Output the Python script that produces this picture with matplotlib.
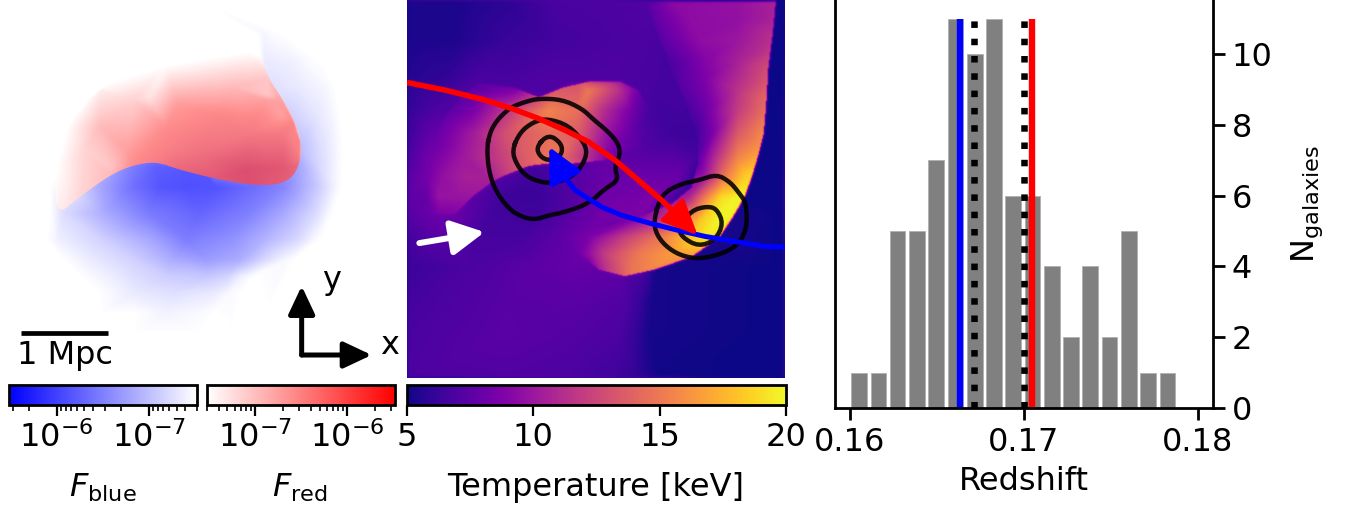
import numpy as np
import matplotlib
matplotlib.use("Agg")
import matplotlib.pyplot as plt
import matplotlib.tri as mtri
from matplotlib.cm import ScalarMappable
from matplotlib.colors import LinearSegmentedColormap, LogNorm, Normalize
from matplotlib.patches import Polygon
from matplotlib.path import Path
from matplotlib.ticker import NullFormatter

# histogram
bar_centers = [0.16052, 0.16163, 0.16274, 0.16385, 0.16495, 0.16606, 0.16717, 0.16828, 0.16938,
               0.17049, 0.17160, 0.17271, 0.17381, 0.17492, 0.17603, 0.17714, 0.17824]
bar_counts = [1, 1, 5, 5, 7, 11, 10, 11, 6, 6, 4, 2, 4, 2, 5, 1, 1]
blue_z = 0.16635
red_z = 0.17046
dotted_z = [0.16712, 0.16999]

# temperature map, row y: (x, keV) along the row
cool_rows = {
    0: [(5, 5.3), (150, 5.3), (300, 5.8), (450, 6.8), (680, 7), (800, 7), (880, 5.2), (1140, 5)],
    120: [(5, 5.3), (150, 5.4), (300, 6.2), (450, 6.6), (700, 6.9), (860, 6.5), (950, 5.2), (1140, 5)],
    230: [(5, 5.6), (130, 6), (215, 6.8), (430, 7), (600, 7), (760, 6.7), (860, 6.7), (930, 5), (1140, 5)],
    330: [(5, 6), (100, 7), (300, 7.2), (600, 7.5), (760, 6.5), (840, 6.6), (960, 5), (1140, 5)],
    400: [(5, 6.3), (80, 7.8), (600, 7.5), (800, 6.4), (870, 6.3), (960, 5), (1140, 5)],
    470: [(5, 6.8), (70, 8.4), (300, 7), (700, 7.4), (870, 6.8), (960, 5), (1140, 5)],
    530: [(5, 7.3), (60, 8.3), (150, 8), (300, 7), (400, 6.4), (470, 7), (600, 8), (700, 8), (820, 8), (900, 5), (1140, 5)],
    590: [(5, 7.5), (100, 8), (220, 7.2), (300, 6.3), (400, 6.3), (480, 6.9), (600, 8.2), (750, 8.8), (850, 5.5), (1140, 5)],
    650: [(5, 7.2), (90, 8), (160, 7.8), (250, 6.6), (400, 6.5), (500, 7.4), (600, 8.4), (700, 8.8), (800, 5.5), (1140, 5)],
    710: [(5, 6.6), (100, 7.4), (200, 6.7), (350, 6.7), (450, 7.4), (550, 8.4), (650, 7), (760, 5), (1140, 5)],
    800: [(5, 6.3), (200, 6.9), (400, 7.5), (500, 7.8), (640, 7.6), (720, 6.7), (750, 5.2), (1140, 5)],
    900: [(5, 6.6), (300, 7.3), (500, 7.4), (660, 7.1), (700, 6.3), (740, 5.2), (1140, 5)],
    1000: [(5, 6.8), (300, 7.4), (500, 7.2), (640, 6.9), (690, 6.1), (730, 5.2), (1140, 5)],
    1132: [(5, 6.9), (300, 7.1), (500, 6.9), (620, 6.5), (700, 5.9), (760, 5.1), (1140, 5)],
}
band_rows = {
    0: [(700, 6.8), (730, 7.4), (800, 9.3), (1000, 9.7), (1150, 10.9)],
    60: [(720, 6.9), (760, 7.8), (850, 9.4), (1000, 9.6), (1150, 11)],
    120: [(740, 6.8), (790, 7.8), (880, 9.4), (1000, 10), (1150, 12)],
    180: [(770, 6.7), (820, 7.4), (900, 9), (1000, 10.5), (1150, 13.5)],
    230: [(790, 6.7), (900, 8.7), (1000, 11), (1150, 14.5)],
    270: [(800, 6.7), (900, 8.5), (1000, 11.5), (1150, 15.5)],
    330: [(840, 6.6), (900, 8), (1000, 12), (1150, 16.5)],
    400: [(870, 6.3), (920, 8.5), (1000, 13.5), (1150, 18)],
    470: [(870, 6.8), (930, 11), (1000, 15.5), (1150, 19)],
    530: [(820, 8), (900, 10), (960, 15), (1020, 18.5), (1150, 20)],
    590: [(750, 8.8), (850, 10.5), (900, 15), (950, 19), (1000, 19.8), (1150, 19.5)],
    650: [(700, 8.8), (800, 12), (900, 18.5), (950, 20), (1150, 19)],
    710: [(450, 7.4), (550, 8.6), (650, 11.8), (750, 14.5), (850, 18), (900, 19.5), (1150, 17.5)],
    760: [(450, 7.5), (520, 8.3), (560, 10), (600, 12), (700, 15), (800, 16.5), (1150, 15.5)],
    800: [(500, 7.8), (550, 8.2), (600, 11.5), (680, 14.8), (1150, 15)],
    850: [(500, 7.8), (550, 8.2), (600, 11.5), (680, 14.8), (1150, 15)],
}
band_edge = [(720, 0), (1115, 0), (1105, 100), (1092, 200), (1086, 300), (1078, 400), (1060, 470), (1042, 530), (1020, 590), (985, 650), (945, 710),
             (860, 770), (750, 808), (660, 828), (580, 808), (520, 760), (490, 700), (560, 690), (700, 650), (800, 610), (860, 560), (880, 490),
             (880, 420), (840, 300), (790, 180)]
lobe_rows = {
    240: [(200, 7), (330, 7.5), (400, 8.8), (450, 11.5), (520, 13), (640, 10.5), (720, 7)],
    270: [(120, 6.5), (200, 7.5), (330, 8.8), (400, 11.5), (450, 13.5), (550, 15), (640, 11.5), (700, 8.3), (720, 7.3)],
    330: [(100, 7), (200, 8.5), (300, 11.5), (430, 15.5), (520, 14.5), (600, 11), (680, 8.4), (740, 6.5)],
    400: [(80, 7.6), (200, 10.2), (300, 13), (430, 14.5), (520, 13.5), (600, 10), (680, 7.8), (760, 6.5)],
    470: [(70, 8.3), (170, 10), (280, 12), (380, 14), (450, 15), (540, 11.5), (620, 8.5), (700, 7.4)],
    530: [(60, 8.3), (110, 9.6), (180, 10.5), (250, 10.5), (380, 14), (480, 15), (600, 8.5)],
    590: [(60, 8), (100, 9.8), (150, 9.8), (250, 10)],
    650: [(60, 7.7), (100, 8.5), (200, 9)],
}
lobe_edge = [(110, 680), (40, 680), (60, 560), (60, 470), (90, 380), (150, 310), (215, 248), (330, 262), (400, 290), (470, 262), (550, 243), (640, 240),
             (700, 270), (740, 340), (700, 440), (600, 480), (500, 490), (450, 487), (370, 497), (300, 525), (260, 545), (200, 590), (150, 640)]

# contours and trajectories on the temperature map
ring_a = [(245, 440), (255, 395), (272, 365), (295, 340), (320, 320), (360, 305), (400, 295), (470, 298), (530, 325), (565, 358), (610, 395),
          (640, 430), (645, 465), (628, 500), (640, 540), (600, 565), (550, 610), (480, 635), (430, 645), (390, 658), (350, 650),
          (310, 625), (270, 570), (250, 510)]
ring_b = [(320, 450), (345, 395), (385, 365), (425, 355), (490, 375), (540, 430), (545, 470), (510, 525), (440, 552), (370, 535), (335, 495)]
ring_c = [(393, 440), (430, 402), (470, 430), (470, 465), (435, 482), (405, 470)]
ring_d = [(745, 660), (770, 580), (830, 550), (880, 540), (935, 522), (975, 545), (1000, 575), (1025, 610), (1025, 690), (990, 745),
          (900, 775), (840, 770), (790, 745), (755, 705)]
ring_e = [(820, 680), (860, 630), (905, 618), (935, 625), (955, 670), (930, 720), (880, 738), (830, 710)]
red_path = [(5, 247), (120, 270), (230, 297), (320, 325), (400, 355), (480, 390), (550, 425), (630, 480), (700, 540), (770, 600), (815, 642)]
red_tip = (878, 705)
blue_path = [(1140, 740), (1080, 738), (1000, 725), (900, 708), (820, 690), (740, 670), (650, 645), (590, 620), (510, 570), (478, 530)]
blue_tip = (432, 440)
white_arrow = [(42, 728), (238, 695)]

# blue flux, row y: (x, 0-1)
blue_rows = {
    0: [(0, 0), (600, 0), (1215, 0)],
    100: [(700, 0), (775, 0), (790, 0.06), (810, 0.03), (850, 0), (1215, 0)],
    180: [(0, 0), (600, 0), (780, 0), (795, 0.12), (880, 0.08), (930, 0.02), (960, 0), (1215, 0)],
    260: [(0, 0), (500, 0), (700, 0), (810, 0.18), (900, 0.12), (985, 0.04), (1005, 0), (1215, 0)],
    350: [(0, 0), (300, 0), (600, 0.1), (870, 0.28), (950, 0.15), (1010, 0.03), (1020, 0), (1215, 0)],
    450: [(0, 0), (200, 0), (600, 0.4), (905, 0.38), (960, 0.2), (1018, 0.03), (1030, 0), (1215, 0)],
    500: [(0, 0), (100, 0), (400, 0.75), (470, 0.92), (600, 0.97), (800, 0.7), (900, 0.5), (960, 0.22), (1020, 0.02), (1030, 0), (1215, 0)],
    560: [(0, 0), (150, 0), (200, 0.1), (300, 0.5), (400, 0.82), (480, 0.97), (560, 1), (650, 0.98), (750, 0.85), (850, 0.7), (960, 0.28), (1010, 0.05), (1025, 0), (1215, 0)],
    640: [(0, 0), (150, 0), (190, 0.2), (300, 0.45), (450, 0.76), (600, 0.88), (750, 0.72), (850, 0.5), (950, 0.2), (985, 0.05), (1000, 0), (1215, 0)],
    720: [(0, 0), (140, 0), (170, 0.08), (300, 0.25), (450, 0.5), (560, 0.74), (700, 0.62), (800, 0.42), (900, 0.2), (945, 0.03), (960, 0), (1215, 0)],
    780: [(0, 0), (190, 0), (260, 0.1), (400, 0.26), (520, 0.48), (620, 0.57), (720, 0.47), (800, 0.2), (860, 0.04), (880, 0), (1215, 0)],
    830: [(0, 0), (240, 0), (350, 0.12), (500, 0.28), (620, 0.32), (680, 0.25), (720, 0.1), (760, 0), (1215, 0)],
    880: [(0, 0), (300, 0), (400, 0.12), (520, 0.18), (640, 0.12), (690, 0.03), (720, 0), (1215, 0)],
    940: [(0, 0), (300, 0), (400, 0), (500, 0.07), (600, 0.03), (640, 0), (800, 0), (1215, 0)],
    1000: [(0, 0), (300, 0), (400, 0), (500, 0), (600, 0), (700, 0), (1215, 0)],
    1110: [(0, 0), (600, 0), (1215, 0)],
}

# red flux: clip outline, then x, y, value 0-1
red_edge = [(165, 650), (240, 590), (330, 525), (400, 495), (470, 485), (540, 510), (650, 537), (750, 555), (830, 555), (875, 535), (900, 490),
            (905, 430), (885, 365), (850, 300), (805, 235), (785, 165), (740, 155), (500, 195), (300, 255), (200, 380), (170, 500)]
red_lower = [(165, 650, 0.08), (240, 590, 0.18), (330, 525, 0.3), (400, 495, 0.5), (470, 485, 0.62), (540, 510, 0.8), (650, 537, 0.92), (750, 555, 0.98),
             (830, 555, 0.9), (875, 535, 0.85), (900, 490, 0.75), (905, 430, 0.62), (885, 365, 0.55), (850, 300, 0.42), (805, 235, 0.25)]
red_upper = [(785, 165, 0), (740, 155, 0), (500, 195, 0), (300, 255, 0), (200, 380, 0), (170, 500, 0),
             (740, 510, 1.0), (600, 460, 0.72), (850, 500, 0.92), (500, 380, 0.5), (530, 310, 0.42), (400, 300, 0.2), (300, 270, 0.08),
             (300, 380, 0.3), (380, 450, 0.42), (250, 450, 0.18), (200, 600, 0.1), (330, 500, 0.25), (700, 260, 0.3), (650, 240, 0.22), (450, 290, 0.12),
             (800, 300, 0.42), (850, 400, 0.65), (650, 350, 0.55), (750, 400, 0.65), (500, 450, 0.6), (600, 530, 0.88)]
scale_bar = [(63, 998), (325, 998)]
axis_origin = (905, 1065)
x_tip = (1115, 1065)
y_tip = (905, 858)

W, H = 1346, 511
FS = 23
plt.rcParams["font.size"] = FS
plt.rcParams["axes.linewidth"] = 2.0
plt.rcParams["mathtext.default"] = "it"

fig = plt.figure(figsize=(W / 100, H / 100), dpi=100)


def px_axes(x0, y0, x1, y1):
    return fig.add_axes([x0 / W, 1 - y1 / H, (x1 - x0) / W, (y1 - y0) / H])


def rows_to_pts(rows):
    return [(x, y, v) for y, row in rows.items() for x, v in row]


def soften(z, passes):
    for _ in range(passes):
        z = (z * 2 + np.roll(z, 1, 0) + np.roll(z, -1, 0) + np.roll(z, 1, 1) + np.roll(z, -1, 1)) / 6
    return z


def field(pts, xr, yr, nx, ny, fill, passes=2):
    # interpolate the read-off points on a pixel grid, soften the triangle facets
    p = np.array(pts, dtype=float)
    interp = mtri.LinearTriInterpolator(mtri.Triangulation(p[:, 0], p[:, 1]), p[:, 2])
    gx, gy = np.meshgrid(np.linspace(xr[0], xr[1], nx), np.linspace(yr[0], yr[1], ny))
    return soften(np.ma.filled(interp(gx, gy), fill), passes)


def inside(edge, xr, yr, nx, ny):
    gx, gy = np.meshgrid(np.linspace(xr[0], xr[1], nx), np.linspace(yr[0], yr[1], ny))
    xy = np.column_stack([gx.ravel(), gy.ravel()])
    return Path(edge).contains_points(xy).reshape(gx.shape)


def round_ring(ring, passes=2):
    # corner cutting so the contours are not angular
    r = np.array(ring, dtype=float)
    for _ in range(passes):
        nxt = np.roll(r, -1, axis=0)
        r = np.column_stack([0.75 * r + 0.25 * nxt, 0.25 * r + 0.75 * nxt]).reshape(-1, 2)
    return np.vstack([r, r[:1]])


def arrow(ax, start, tip, color, lw, hl, hw):
    ax.annotate("", xy=tip, xytext=start, annotation_clip=False,
                arrowprops=dict(arrowstyle="-|>,head_length=%f,head_width=%f" % (hl, hw), color=color, lw=lw,
                                shrinkA=0, shrinkB=0, mutation_scale=10))


# flux panel
ax1 = px_axes(0, 0, 405, 370)
blue_cmap = LinearSegmentedColormap.from_list("fb", ["white", "#5050ff"])
red_cmap = LinearSegmentedColormap.from_list("fr", ["white", "#ff8c8c", "#dc4e70"])
ax1.imshow(field(rows_to_pts(blue_rows), (0, 1215), (0, 1110), 405, 370, 0.0, passes=6), cmap=blue_cmap, vmin=0, vmax=1,
           extent=(0, 1215, 1110, 0), interpolation="bilinear", aspect="auto")
red_pts = red_upper + red_lower + [(x, y + 50, v) for x, y, v in red_lower]
red_im = ax1.imshow(field(red_pts, (0, 1215), (0, 1110), 405, 370, 0.0, passes=5), cmap=red_cmap, vmin=0, vmax=1,
                    extent=(0, 1215, 1110, 0), interpolation="bilinear", aspect="auto")
red_patch = Polygon(round_ring(red_edge, 2), closed=True, transform=ax1.transData, fc="none", ec="none")
ax1.add_patch(red_patch)
red_im.set_clip_path(red_patch)
ax1.set_xlim(0, 1215)
ax1.set_ylim(1110, 0)
ax1.axis("off")
ax1.plot([p[0] for p in scale_bar], [p[1] for p in scale_bar], color="k", lw=3.4, solid_capstyle="butt")
ax1.text(195, 1065, "1 Mpc", ha="center", va="center", fontsize=FS, clip_on=False)
arrow(ax1, axis_origin, x_tip, "k", 3.6, 1.7, 0.8)
arrow(ax1, axis_origin, y_tip, "k", 3.6, 1.7, 0.8)
ax1.text(1170, 1035, "x", ha="center", va="center", fontsize=FS)
ax1.text(995, 840, "y", ha="center", va="center", fontsize=FS)

# temperature panel: cool base, then the hot band and lobe with their sharp edges
ax2 = px_axes(407, 0, 785, 378)
xr, yr = (5, 1140), (0, 1132)
temp = field(rows_to_pts(cool_rows), xr, yr, 378, 378, 5.0, passes=8)
for rows, edge in ((band_rows, band_edge), (lobe_rows, lobe_edge)):
    hot = field(rows_to_pts(rows), xr, yr, 378, 378, 0.0, passes=6)
    temp = np.where(inside(edge, xr, yr, 378, 378), np.maximum(temp, hot), temp)
temp = soften(temp, 2)
ax2.imshow(temp, cmap="plasma", vmin=5, vmax=20, extent=(5, 1140, 1132, 0), interpolation="bilinear", aspect="auto")
for ring in (ring_a, ring_b, ring_c, ring_d, ring_e):
    r = round_ring(ring)
    ax2.plot(r[:, 0], r[:, 1], color="k", lw=3.2, alpha=0.88, solid_joinstyle="round")
rp = np.array(red_path)
bp = np.array(blue_path)
ax2.plot(rp[:, 0], rp[:, 1], color="r", lw=4.0, solid_capstyle="butt")
ax2.plot(bp[:, 0], bp[:, 1], color="b", lw=3.6, solid_capstyle="butt")
arrow(ax2, red_path[-1], red_tip, "r", 3.6, 2.1, 0.95)
arrow(ax2, blue_path[-1], blue_tip, "b", 3.6, 2.1, 1.05)
arrow(ax2, white_arrow[0], white_arrow[1], "w", 4.3, 2.0, 1.05)
ax2.set_xlim(5, 1140)
ax2.set_ylim(1132, 0)
ax2.axis("off")

# colorbars
cmap_b = LinearSegmentedColormap.from_list("cb", ["white", "blue"])
cmap_r = LinearSegmentedColormap.from_list("cr", ["white", "red"])
log_norm = LogNorm(vmin=3e-8, vmax=3.3e-6)
cax_b = px_axes(9, 385, 197, 405)
cb_b = fig.colorbar(ScalarMappable(norm=log_norm, cmap=cmap_b), cax=cax_b, orientation="horizontal")
cax_b.invert_xaxis()
cax_r = px_axes(207, 385, 395, 405)
cb_r = fig.colorbar(ScalarMappable(norm=log_norm, cmap=cmap_r), cax=cax_r, orientation="horizontal")
cax_t = px_axes(407, 385, 786, 405)
cb_t = fig.colorbar(ScalarMappable(norm=Normalize(5, 20), cmap="plasma"), cax=cax_t, orientation="horizontal")
cb_t.set_ticks([5, 10, 15, 20])
for cb in (cb_b, cb_r, cb_t):
    cb.outline.set_linewidth(2.0)
    cb.ax.tick_params(which="major", length=8, width=1.6, labelsize=FS, pad=4)
    cb.ax.tick_params(which="minor", length=4, width=1.2)
    cb.ax.xaxis.set_minor_formatter(NullFormatter())
fig.text(103 / W, 1 - 488 / H, r"$F_{\mathrm{blue}}$", ha="center", va="center", fontsize=FS)
fig.text(300 / W, 1 - 488 / H, r"$F_{\mathrm{red}}$", ha="center", va="center", fontsize=FS)
fig.text(596 / W, 1 - 487 / H, "Temperature [keV]", ha="center", va="center", fontsize=FS)

# histogram panel
ax3 = px_axes(835, 0, 1213, 408)
ax3.bar(bar_centers, bar_counts, width=0.00090, color="gray", edgecolor="#b0b0b0", lw=0.6)
ax3.plot([blue_z, blue_z], [0, 11], color="b", lw=4.6, solid_capstyle="butt")
ax3.plot([red_z, red_z], [0, 11], color="r", lw=4.6, solid_capstyle="butt")
for z in dotted_z:
    ax3.plot([z, z], [0, 11], color="k", lw=4.7, ls=":")
ax3.set_xlim(0.15914, 0.18086)
ax3.set_ylim(0, 11.53)
ax3.set_xticks([0.16, 0.17, 0.18])
ax3.set_xticklabels(["0.16", "0.17", "0.18"])
ax3.set_yticks([0, 2, 4, 6, 8, 10])
ax3.yaxis.tick_right()
ax3.yaxis.set_label_position("right")
ax3.spines["top"].set_visible(False)
ax3.tick_params(length=8.5, width=2.0, labelsize=FS, pad=5)
ax3.set_xlabel("Redshift", fontsize=FS, labelpad=6)
ax3.set_ylabel(r"$\mathrm{N_{galaxies}}$", fontsize=FS, labelpad=12)

fig.savefig("out.png", dpi=100)
